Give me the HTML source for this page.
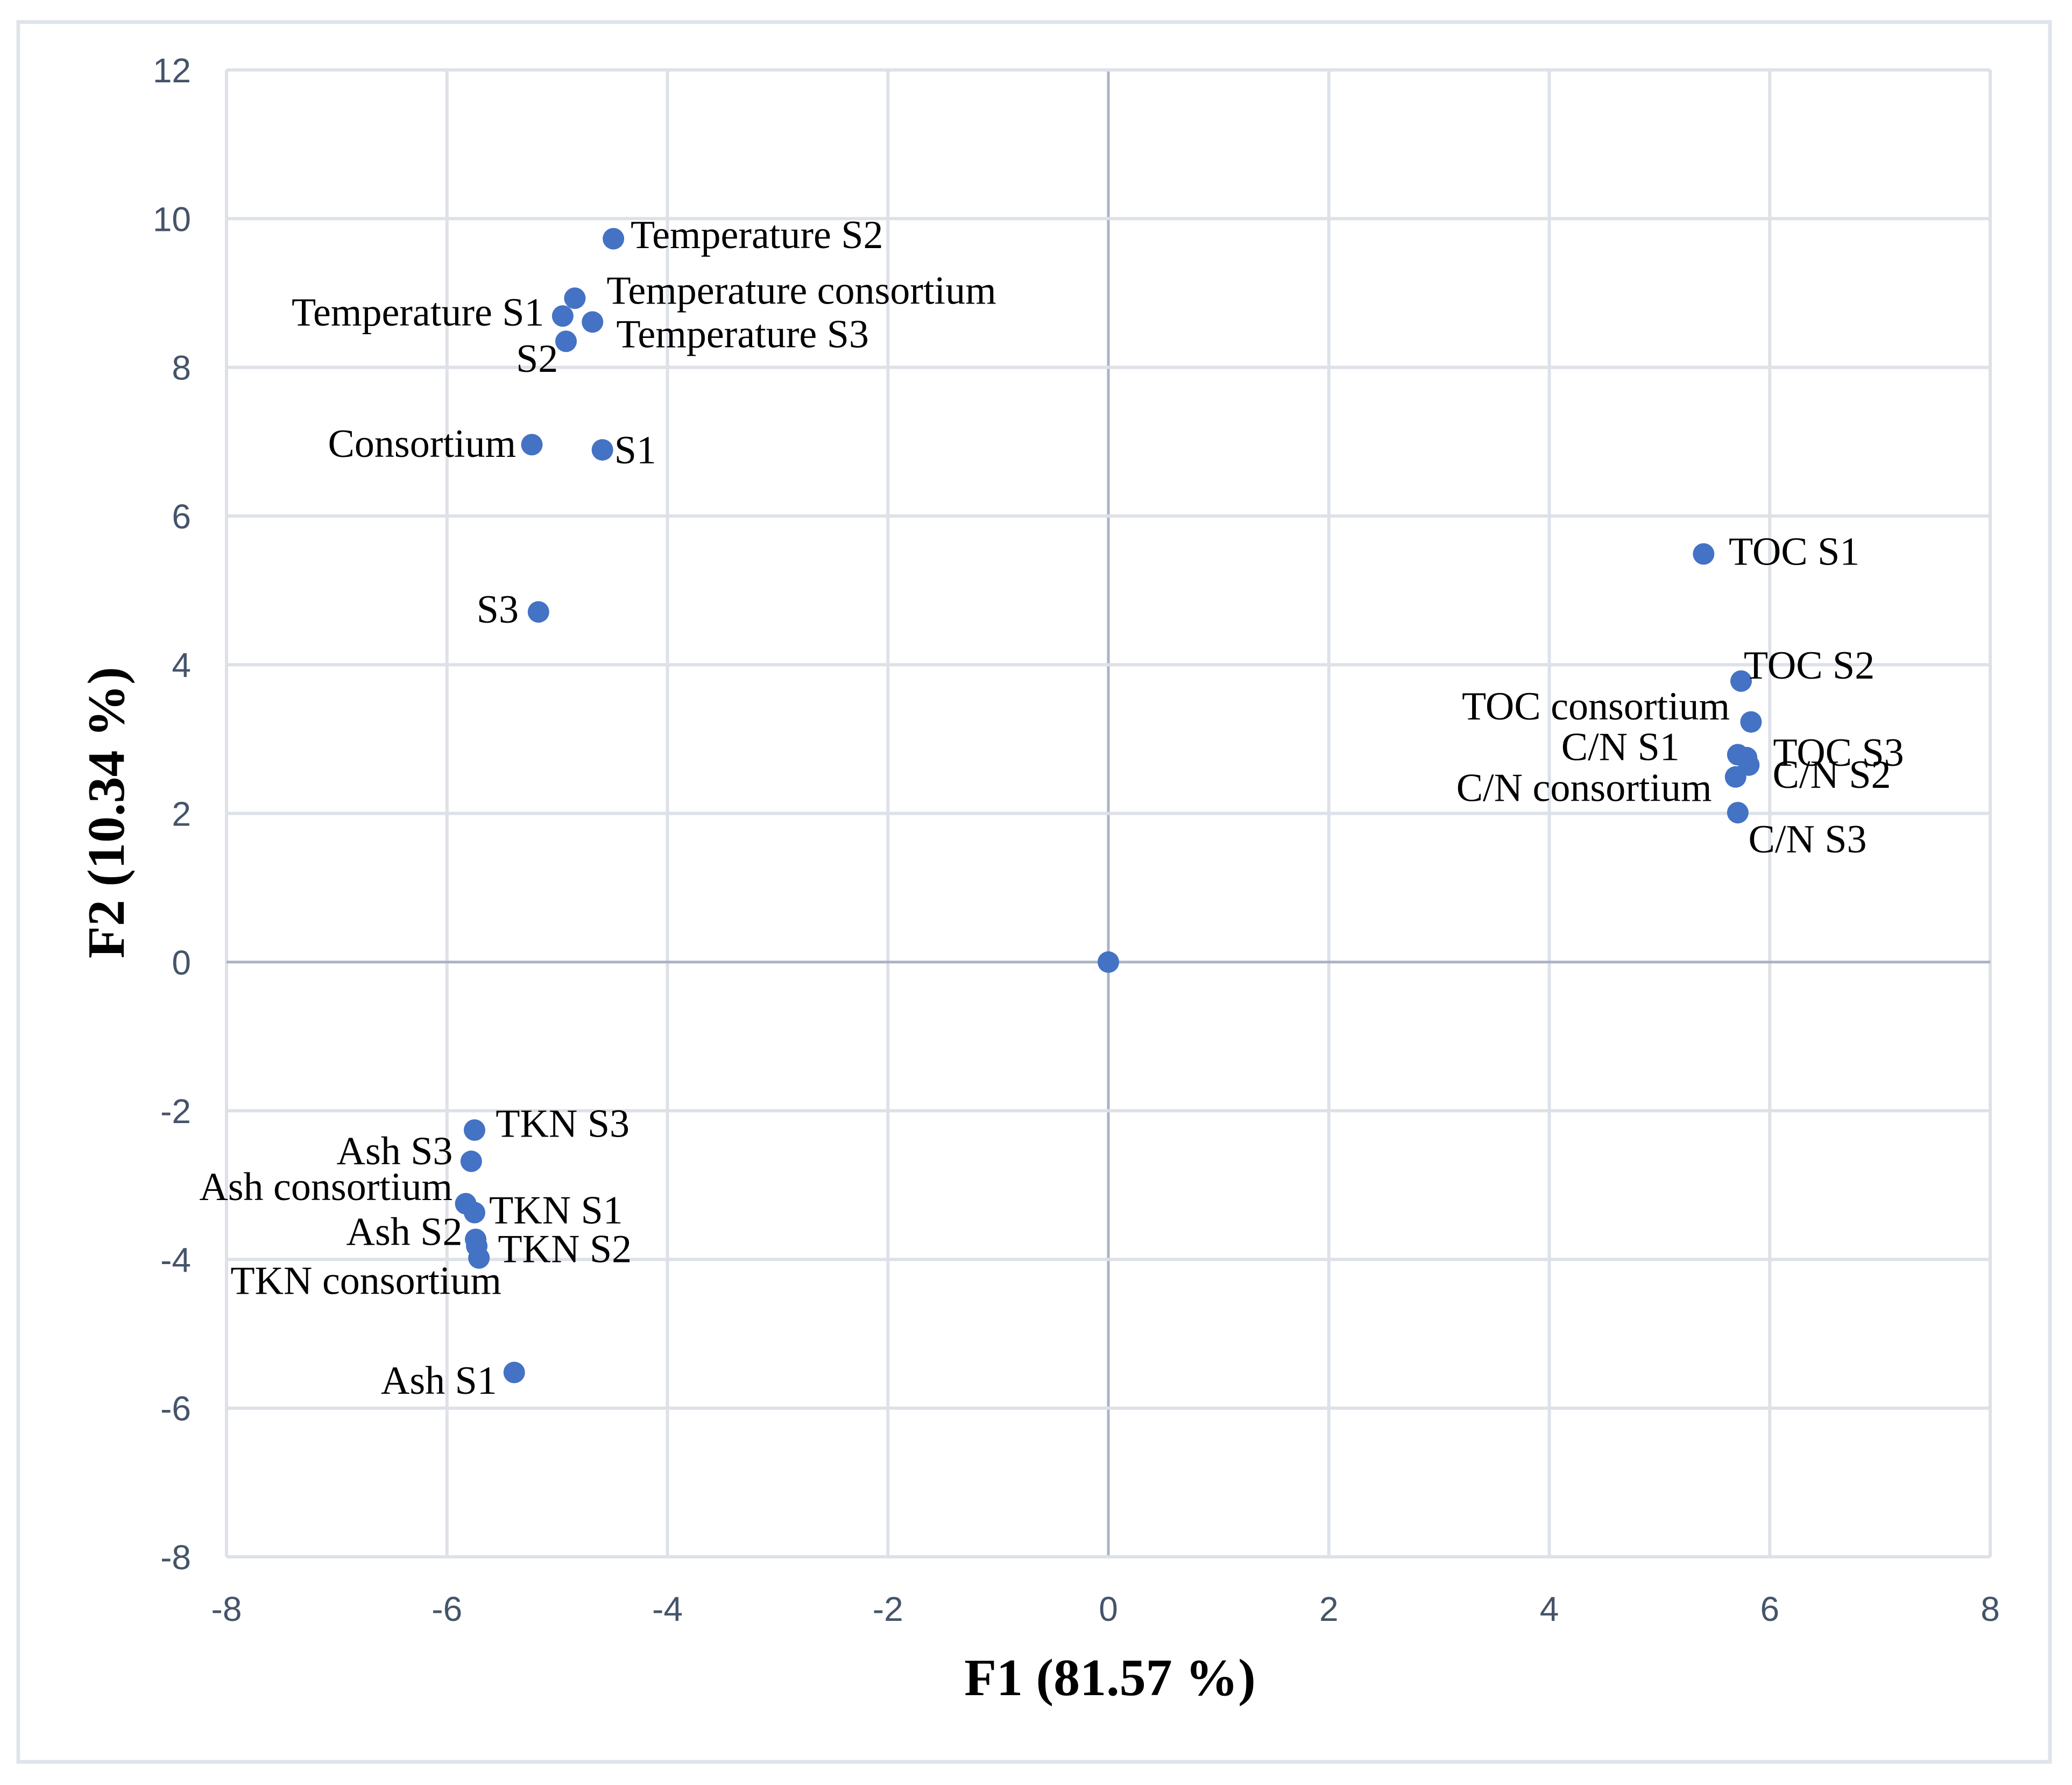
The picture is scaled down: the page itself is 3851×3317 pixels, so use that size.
<!DOCTYPE html>
<html><head><meta charset="utf-8"><style>
html,body{margin:0;padding:0;background:#fff;}
svg{display:block;}
</style></head><body>
<svg id="chart" width="3851" height="3317" viewBox="0 0 3851 3317" xmlns="http://www.w3.org/2000/svg">
<rect x="34" y="41" width="3776" height="3233" fill="#fff" stroke="#dfe3ea" stroke-width="7"/>
<g id="grid"></g>
<g id="ticks"></g>
<g id="points"></g>
<g id="labels"></g>
<text x="2063" y="3150" text-anchor="middle" font-family="Liberation Serif, serif" font-weight="bold" font-size="98" fill="#000">F1 (81.57 %)</text>
<text transform="translate(230,1510) rotate(-90)" text-anchor="middle" font-family="Liberation Serif, serif" font-weight="bold" font-size="98" fill="#000">F2 (10.34 %)</text>
</svg>
<script>
const names = ["Temperature S2","Temperature consortium","Temperature S1","Temperature S3","S2","Consortium","S1","S3","TOC S1","TOC S2","TOC consortium","TOC S3","C/N S1","C/N S2","C/N  consortium","C/N S3","TKN S3","Ash S3","Ash consortium","TKN S1","Ash S2","TKN S2","TKN consortium","Ash  S1",""];
const f1Values = [-4.49,-4.84,-4.95,-4.68,-4.92,-5.23,-4.59,-5.17,5.40,5.74,5.83,5.79,5.71,5.81,5.69,5.71,-5.75,-5.78,-5.83,-5.75,-5.74,-5.73,-5.71,-5.39,0];
const f2Values = [9.73,8.93,8.69,8.61,8.35,6.96,6.89,4.71,5.49,3.78,3.23,2.75,2.79,2.65,2.49,2.01,-2.26,-2.68,-3.25,-3.37,-3.73,-3.82,-3.98,-5.52,0];
const xTicks = [-8,-6,-4,-2,0,2,4,6,8];
const yTicks = [12,10,8,6,4,2,0,-2,-4,-6,-8];
// label placement (style, displayed-scale offsets)
const labelDx = [13,24,-14,18,-6,-12,9,-15,19,2,-16,20,-44,18,-18,8,16,-14,-10,11,-10,16,17,-13,0];
const labelDy = [-3,-6,-3,9,13,-1,0,-2,-2,-12,-12,-4,-6,7,8,20,-5,-8,-13,-2,-6,2,17,6,0];
const labelEnd = [0,0,1,0,1,1,0,1,0,0,1,0,1,0,1,0,0,1,1,0,1,0,1,1,0];

const X0=421, X1=3699, Y0=130, Y1=2893;
const sx = v => X0 + (v+8)/16*(X1-X0);
const sy = v => Y0 + (12-v)/20*(Y1-Y0);
const NS="http://www.w3.org/2000/svg";
const mk=(t,a,p)=>{const e=document.createElementNS(NS,t);for(const k in a)e.setAttribute(k,a[k]);p.appendChild(e);return e;};
const grid=document.getElementById('grid'), ticks=document.getElementById('ticks');
xTicks.forEach(v=>{
  const l=mk('line',{x1:sx(v),x2:sx(v),y1:Y0,y2:Y1,stroke:v===0?'#a9b3c3':'#dde1e8','stroke-width':v===0?5:6},grid);
  
  
  const t=mk('text',{x:sx(v),y:3012,'text-anchor':'middle','font-family':'Liberation Sans, sans-serif','font-size':64,fill:'#44546a'},ticks);
  t.textContent=v;
  
  
});
yTicks.forEach(v=>{
  const l=mk('line',{x1:X0,x2:X1,y1:sy(v),y2:sy(v),stroke:v===0?'#a9b3c3':'#dde1e8','stroke-width':v===0?5:6},grid);
  
  
  const t=mk('text',{x:355,y:sy(v)+23,'text-anchor':'end','font-family':'Liberation Sans, sans-serif','font-size':64,fill:'#44546a'},ticks);
  t.textContent=v;
  
  
});
const pts=document.getElementById('points'), labs=document.getElementById('labels');
const K=2.456;
f1Values.forEach((v,i)=>{
  const cx=sx(v), cy=sy(f2Values[i]);
  const c=mk('circle',{cx:cx,cy:cy,r:20,fill:'#4472c4'},pts);
  
  
  if(names[i]){
    const t=mk('text',{x:cx+labelDx[i]*K,y:cy+labelDy[i]*K+25,'text-anchor':labelEnd[i]?'end':'start','font-family':'Liberation Serif, serif','font-size':74,fill:'#000','xml:space':'preserve'},labs);
    t.textContent=names[i];
    
    
  }
});
</script>
</body></html>
